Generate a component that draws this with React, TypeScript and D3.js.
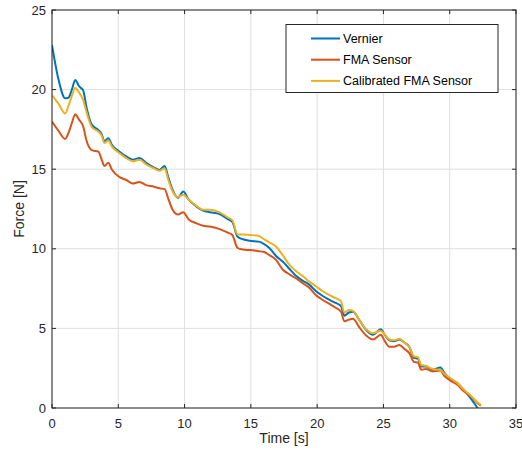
import React from "react";
import * as d3 from "d3";

const times = [0, 0.5, 1.0, 1.25, 1.5, 1.75, 2.05, 2.35, 2.6, 3.0, 3.5, 3.75, 3.95, 4.25, 4.5, 5.1, 5.6, 6.1, 6.6, 7.1, 7.7, 8.1, 8.5, 8.75, 9.1, 9.5, 9.9, 10.3, 10.9, 11.4, 11.9, 12.6, 13.3, 13.6, 14.0, 14.4, 14.9, 15.6, 16.0, 16.4, 16.9, 17.4, 17.9, 18.4, 18.9, 19.4, 19.9, 20.4, 20.9, 21.4, 21.8, 22.05, 22.4, 22.7, 23.2, 23.7, 24.2, 24.8, 25.1, 25.45, 25.8, 26.2, 26.6, 26.95, 27.3, 27.6, 27.85, 28.2, 28.7, 29.3, 29.6, 30.0, 30.6, 31.0, 31.5, 32.1, 32.35];

const vernier = [22.8, 20.6, 19.45, 19.5, 20.0, 20.6, 20.2, 19.95, 18.9, 17.8, 17.45, 17.2, 16.75, 16.95, 16.55, 16.1, 15.8, 15.6, 15.7, 15.4, 15.1, 14.95, 15.2, 14.55, 13.7, 13.2, 13.6, 13.1, 12.65, 12.4, 12.3, 12.2, 11.85, 11.7, 10.75, 10.6, 10.5, 10.45, 10.3, 10.05, 9.55, 9.2, 8.75, 8.3, 8.0, 7.75, 7.35, 7.05, 6.8, 6.6, 6.4, 5.8, 6.0, 6.05, 5.5, 4.9, 4.6, 4.95, 4.6, 4.25, 4.2, 4.3, 4.1, 3.85, 3.15, 3.1, 2.6, 2.6, 2.4, 2.55, 2.2, 1.85, 1.55, 1.2, 0.7, 0.0, -0.3];

const fma = [18.0, 17.4, 16.9, 17.3, 17.9, 18.45, 18.1, 17.7, 16.8, 16.2, 16.1, 15.6, 15.2, 15.4, 15.0, 14.5, 14.32, 14.1, 14.2, 14.0, 13.9, 13.8, 13.75, 13.2, 12.45, 12.15, 12.3, 11.85, 11.6, 11.45, 11.4, 11.25, 11.0, 10.87, 10.05, 9.95, 9.92, 9.85, 9.8, 9.6, 9.3, 8.7, 8.4, 8.15, 7.85, 7.55, 7.1, 6.8, 6.55, 6.3, 6.05, 5.45, 5.55, 5.6, 5.05, 4.55, 4.3, 4.6, 4.2, 3.85, 3.85, 3.95, 3.7, 3.45, 2.9, 2.85, 2.4, 2.45, 2.3, 2.35, 2.0, 1.75, 1.45, 1.1, 0.8, 0.3, 0.15];

const calibrated = [19.65, 19.1, 18.5, 19.0, 19.6, 20.1, 19.8, 19.35, 18.6, 17.65, 17.35, 17.1, 16.65, 16.8, 16.45, 16.0, 15.7, 15.5, 15.6, 15.3, 15.05, 14.9, 15.05, 14.4, 13.6, 13.25, 13.4, 13.1, 12.7, 12.45, 12.45, 12.3, 11.95, 11.8, 10.9, 10.9, 10.87, 10.8, 10.6, 10.4, 10.15, 9.6, 9.0, 8.6, 8.3, 7.95, 7.65, 7.35, 7.1, 6.9, 6.7, 6.0, 6.15, 6.1, 5.5, 4.95, 4.7, 4.85, 4.6, 4.3, 4.25, 4.35, 4.1, 3.85, 3.25, 3.2, 2.7, 2.65, 2.45, 2.4, 2.15, 1.9, 1.55, 1.2, 0.85, 0.35, 0.2];

const xTicks = [0, 5, 10, 15, 20, 25, 30, 35];
const yTicks = [0, 5, 10, 15, 20, 25];

const seriesNames = ["Vernier", "FMA Sensor", "Calibrated FMA Sensor"];
const seriesValues = [vernier, fma, calibrated];
const colors = ["#0072BD", "#D95319", "#EDB120"];

const W = 522;
const H = 451;
const left = 52;
const right = 516;
const top = 10;
const bottom = 408;
const font = "'Liberation Sans', Arial, sans-serif";
const axisColor = "#262626";

export default function App() {
  const x = d3.scaleLinear().domain([0, 35]).range([left, right]);
  const y = d3.scaleLinear().domain([0, 25]).range([bottom, top]);
  const line = d3
    .line<number>()
    .x((_, i) => x(times[i]))
    .y((v) => y(v))
    .curve(d3.curveMonotoneX);

  return (
    <div style={{ position: "absolute", left: 0, top: 0 }}>
      <svg width={W} height={H} style={{ display: "block" }}>
        <rect x={0} y={0} width={W} height={H} fill="#fff" />
        <defs>
          <clipPath id="plotclip">
            <rect x={left} y={top} width={right - left} height={bottom - top} />
          </clipPath>
        </defs>
        {xTicks.map((t) => (
          <line key={"gx" + t} x1={x(t)} x2={x(t)} y1={top} y2={bottom} stroke="#dfdfdf" strokeWidth={1} />
        ))}
        {yTicks.map((t) => (
          <line key={"gy" + t} x1={left} x2={right} y1={y(t)} y2={y(t)} stroke="#dfdfdf" strokeWidth={1} />
        ))}
        <g clipPath="url(#plotclip)">
          {seriesValues.map((vals, k) => (
            <path key={k} d={line(vals) || ""} fill="none" stroke={colors[k]} strokeWidth={2} strokeLinejoin="round" />
          ))}
        </g>
        <rect x={left} y={top} width={right - left} height={bottom - top} fill="none" stroke={axisColor} strokeWidth={1} />
        {xTicks.map((t) => (
          <g key={"tx" + t}>
            <line x1={x(t)} x2={x(t)} y1={bottom} y2={bottom - 4} stroke={axisColor} />
            <line x1={x(t)} x2={x(t)} y1={top} y2={top + 4} stroke={axisColor} />
            <text x={x(t)} y={428} textAnchor="middle" fontFamily={font} fontSize={13} fill={axisColor}>
              {t}
            </text>
          </g>
        ))}
        {yTicks.map((t) => (
          <g key={"ty" + t}>
            <line x1={left} x2={left + 4} y1={y(t)} y2={y(t)} stroke={axisColor} />
            <line x1={right} x2={right - 4} y1={y(t)} y2={y(t)} stroke={axisColor} />
            <text x={46} y={y(t) + 4.5} textAnchor="end" fontFamily={font} fontSize={13} fill={axisColor}>
              {t}
            </text>
          </g>
        ))}
        <text x={(left + right) / 2} y={443} textAnchor="middle" fontFamily={font} fontSize={14} fill={axisColor}>
          Time [s]
        </text>
        <text
          transform={`translate(24, ${(top + bottom) / 2}) rotate(-90)`}
          textAnchor="middle"
          fontFamily={font}
          fontSize={14}
          fill={axisColor}
        >
          Force [N]
        </text>
        <rect x={286} y={24.5} width={212} height={68} fill="#fff" stroke={axisColor} strokeWidth={1} />
        {seriesNames.map((name, k) => (
          <g key={name}>
            <line x1={311} x2={340} y1={38.5 + k * 21.2} y2={38.5 + k * 21.2} stroke={colors[k]} strokeWidth={2} />
            <text x={343} y={38.5 + k * 21.2 + 4.5} fontFamily={font} fontSize={12.5} fill="#000">
              {name}
            </text>
          </g>
        ))}
      </svg>
    </div>
  );
}
